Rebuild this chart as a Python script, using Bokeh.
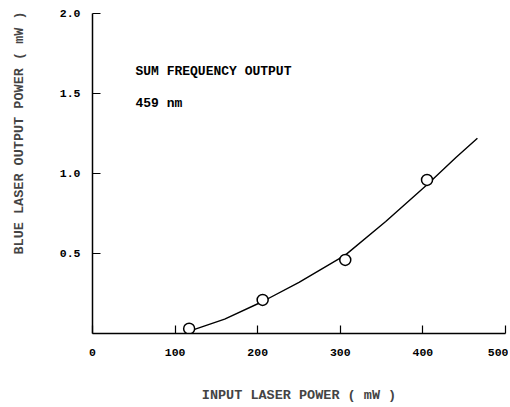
from bokeh.plotting import figure
from bokeh.models import Range1d, FixedTicker, Label
from bokeh.embed import file_html
from bokeh.resources import INLINE

# measured data points (input mW, output mW)
pts_x = [117, 206, 306, 405]
pts_y = [0.03, 0.21, 0.46, 0.96]

# fitted curve
curve_x = [120, 160, 206, 250, 306, 355, 405, 440, 466]
curve_y = [0.02, 0.09, 0.20, 0.32, 0.49, 0.70, 0.93, 1.10, 1.22]

x_ticks = [0, 100, 200, 300, 400, 500]
y_ticks = [0.5, 1.0, 1.5, 2.0]

FONT = "Liberation Mono"
Y_LABEL = "BLUE LASER OUTPUT POWER ( mW )"

p = figure(width=508, height=405, output_backend="svg", toolbar_location=None,
           x_range=Range1d(0, 500), y_range=Range1d(0, 2.0),
           min_border_left=92, min_border_right=3, min_border_top=13, min_border_bottom=65)
p.outline_line_color = None
p.xgrid.visible = False
p.ygrid.visible = False
p.background_fill_color = "white"
p.border_fill_color = "white"

for ax in (p.xaxis[0], p.yaxis[0]):
    ax.axis_line_color = "black"
    ax.axis_line_width = 1.5
    ax.major_tick_line_color = "black"
    ax.major_tick_line_width = 1.2
    ax.major_tick_in = 8
    ax.major_tick_out = 0
    ax.minor_tick_line_color = None
    ax.major_label_text_font = FONT
    ax.major_label_text_font_style = "bold"
    ax.major_label_text_font_size = "11.5px"
    ax.major_label_text_color = "black"

p.xaxis.ticker = FixedTicker(ticks=x_ticks)
p.yaxis.ticker = FixedTicker(ticks=y_ticks)
p.xaxis.major_label_standoff = 15
p.yaxis.major_label_standoff = 12
p.yaxis.major_label_overrides = {0.5: "0.5", 1.0: "1.0", 1.5: "1.5", 2.0: "2.0"}

p.xaxis.axis_label = "INPUT LASER POWER ( mW )"
p.xaxis.axis_label_text_font = FONT
p.xaxis.axis_label_text_font_style = "bold"
p.xaxis.axis_label_text_font_size = "13.5px"
p.xaxis.axis_label_standoff = 29

# the y label sits in the upper part of the axis: pad its start with no-break spaces
yax = p.yaxis[0]
yax.axis_label = "\u00a0" * 10 + Y_LABEL
yax.axis_label_text_font = FONT
yax.axis_label_text_font_style = "bold"
yax.axis_label_text_font_size = "13.5px"
yax.axis_label_standoff = 30

p.line(curve_x, curve_y, line_color="black", line_width=1.4)
p.scatter(pts_x, pts_y, marker="circle", size=11, fill_color="white",
          line_color="black", line_width=1.5)

p.add_layout(Label(x=52, y=1.64, text="SUM FREQUENCY OUTPUT", text_baseline="middle",
                   text_font=FONT, text_font_style="bold", text_font_size="13px",
                   text_color="black"))
p.add_layout(Label(x=52, y=1.44, text="459 nm", text_baseline="middle",
                   text_font=FONT, text_font_style="bold", text_font_size="13px",
                   text_color="black"))

open("out.html", "w").write(file_html(p, INLINE))
